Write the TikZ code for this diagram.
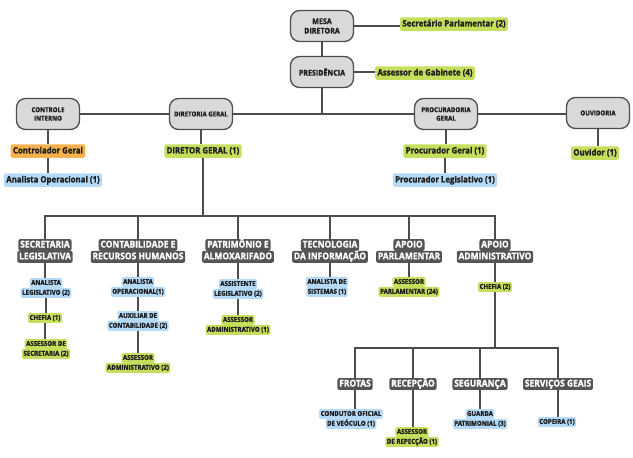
\documentclass[tikz,border=0pt]{standalone}
\usepackage{fontspec}
\setmainfont{Open Sans}[FakeStretch=0.9,BoldFeatures={FakeBold=1.2}]
\usetikzlibrary{positioning}
\definecolor{boxgray}{HTML}{D9D9D9}
\definecolor{linegray}{HTML}{4D4D4D}
\definecolor{dkgray}{HTML}{555555}
\definecolor{lgreen}{HTML}{C5DE5B}
\definecolor{lblue}{HTML}{B5DAF8}
\definecolor{lorange}{HTML}{F7B24E}
\definecolor{txt}{HTML}{1E1E1E}

\begin{document}
\begin{tikzpicture}
	[x=1pt,y=-1pt,
	lnk/.style={draw=linegray,line width=1.6pt},
	grey/.style={draw=linegray,line width=1.3pt,fill=boxgray,rounded corners=9pt,
		minimum width=63pt,minimum height=31pt,align=center,inner sep=1pt,text=txt,
		font=\bfseries\fontsize{7.9}{9.5}\selectfont},
	sgrey/.style={grey,font=\bfseries\fontsize{6.8}{8.5}\selectfont},
	tag/.style={rounded corners=2pt,inner sep=2.3pt,text=txt,text height=6.9pt,text depth=2pt,
		font=\bfseries\fontsize{8.7}{9}\selectfont},
	grn/.style={tag,fill=lgreen},
	blu/.style={tag,fill=lblue},
	orng/.style={tag,fill=lorange},
	leaf/.style={rounded corners=1.5pt,inner sep=1.5pt,text=txt,text height=5.4pt,text depth=1.5pt,
		font=\bfseries\fontsize{6.8}{7.5}\selectfont},
	lgrn/.style={leaf,fill=lgreen},
	lblu/.style={leaf,fill=lblue},
	dark/.style={fill=dkgray,text=white,rounded corners=2pt,inner sep=1.8pt,text height=6.7pt,
		text depth=1.6pt,font=\bfseries\fontsize{9.4}{10}\selectfont}]
	\useasboundingbox (0,0) rectangle (633,458);
	
	% direction
	\node[grey] (mesa) at (322,26) {MESA\\DIRETORA};
	\node[grn] (secp) at (454,24) {Secretário Parlamentar (2)};
	\node[grey] (pres) at (322,72) {PRESIDÊNCIA};
	\node[grn] (asgab) at (425,73) {Assessor de Gabinete (4)};
	\node[sgrey] (ci) at (48,114) {CONTROLE\\INTERNO};
	\node[sgrey] (dg) at (201,114) {DIRETORIA GERAL};
	\node[sgrey] (pg) at (446,114) {PROCURADORIA\\GERAL};
	\node[sgrey] (ouv) at (598,113) {OUVIDORIA};
	\coordinate (b0) at (322,113.5);
	
	\node[orng] (cg) at (48,151) {Controlador Geral};
	\node[blu] (ao) at (53,180) {Analista Operacional (1)};
	\node[grn] (dgr) at (203,151) {DIRETOR GERAL (1)};
	\node[grn] (prg) at (445,151) {Procurador Geral (1)};
	\node[blu] (prl) at (445,180) {Procurador Legislativo (1)};
	\node[grn] (ouvd) at (595,153) {Ouvidor (1)};
	
	% sectors
	\coordinate (b1) at (201,216);
	\node[dark] (sec) at (45,245) {SECRETARIA};
	\node[dark,below=-0.5pt of sec] (sec2) {LEGISLATIVA};
	\node[dark] (cont) at (138,245) {CONTABILIDADE E};
	\node[dark,below=-0.5pt of cont] (cont2) {RECURSOS HUMANOS};
	\node[dark] (pat) at (238,245) {PATRIMÔNIO E};
	\node[dark,below=-0.5pt of pat] (pat2) {ALMOXARIFADO};
	\node[dark] (tec) at (330,245) {TECNOLOGIA};
	\node[dark,below=-0.5pt of tec] (tec2) {DA INFORMAÇÃO};
	\node[dark] (apar) at (409,245) {APOIO};
	\node[dark,below=-0.5pt of apar] (apar2) {PARLAMENTAR};
	\node[dark] (aadm) at (495,245) {APOIO};
	\node[dark,below=-0.5pt of aadm] (aadm2) {ADMINISTRATIVO};
	
	% posts
	\node[lblu] (asl) at (46,283) {ANALISTA};
	\node[lblu,below=-0.5pt of asl] (asl2) {LEGISLATIVO (2)};
	\node[lgrn] (chf) at (45,318) {CHEFIA (1)};
	\node[lgrn] (ass) at (46,344) {ASSESSOR DE};
	\node[lgrn,below=-0.5pt of ass] (ass2) {SECRETARIA (2)};
	\node[lblu] (aop) at (138,282) {ANALISTA};
	\node[lblu,below=-0.5pt of aop] (aop2) {OPERACIONAL(1)};
	\node[lblu] (aux) at (138,316) {AUXILIAR DE};
	\node[lblu,below=-0.5pt of aux] (aux2) {CONTABILIDADE (2)};
	\node[lgrn] (asad) at (138,358) {ASSESSOR};
	\node[lgrn,below=-0.5pt of asad] (asad2) {ADMINISTRATIVO (2)};
	\node[lblu] (asleg) at (238,284) {ASSISTENTE};
	\node[lblu,below=-0.5pt of asleg] (asleg2) {LEGISLATIVO (2)};
	\node[lgrn] (asadm) at (238,320) {ASSESSOR};
	\node[lgrn,below=-0.5pt of asadm] (asadm2) {ADMINISTRATIVO (1)};
	\node[lblu] (asis) at (327,282) {ANALISTA DE};
	\node[lblu,below=-0.5pt of asis] (asis2) {SISTEMAS (1)};
	\node[lgrn] (aspar) at (409,282) {ASSESSOR};
	\node[lgrn,below=-0.5pt of aspar] (aspar2) {PARLAMENTAR (24)};
	\node[lgrn] (chf2) at (495,287) {CHEFIA (2)};
	
	% apoio administrativo
	\coordinate (b2) at (495,348);
	\node[dark] (frot) at (355,384) {FROTAS};
	\node[dark] (recp) at (413,384) {RECEPÇÃO};
	\node[dark] (seg) at (480,384) {SEGURANÇA};
	\node[dark] (serv) at (558,384) {SERVIÇOS GEAIS};
	\node[lblu] (cond) at (351,414) {CONDUTOR OFICIAL};
	\node[lblu,below=-0.5pt of cond] (cond2) {DE VEÓCULO (1)};
	\node[lgrn] (asrec) at (412,432) {ASSESSOR};
	\node[lgrn,below=-0.5pt of asrec] (asrec2) {DE REPECÇÃO (1)};
	\node[lblu] (guard) at (480,414) {GUARDA};
	\node[lblu,below=-0.5pt of guard] (guard2) {PATRIMONIAL (3)};
	\node[lblu] (cop) at (557,422) {COPEIRA (1)};
	
	% links
	\path
	\foreach \startNode/\endNode in {mesa/secp,pres/asgab,ci/dg,dg/pg,pg/ouv}
	{
		(\startNode.east) edge[lnk] (\startNode.east -| \endNode.west)
	};
	\path
	\foreach \startNode/\endNode in {mesa/pres,ci/cg,cg/ao,dg/dgr,pg/prg,prg/prl,ouv/ouvd,
		sec2/asl,asl2/chf,chf/ass,cont2/aop,aop2/aux,aux2/asad,pat2/asleg,asleg2/asadm,
		tec2/asis,apar2/aspar,aadm2/chf2,frot/cond,recp/asrec,seg/guard,serv/cop}
	{
		(\startNode.south) edge[lnk] (\startNode.south |- \endNode.north)
	};
	\draw[lnk] (pres.south) -- (b0);
	\draw[lnk] (dgr.south) -- (dgr.south |- b1);
	\draw[lnk] (sec.north) -- (sec.north |- b1) -- (aadm.north |- b1) -- (aadm.north);
	\draw[lnk] (chf2.south) -- (b2);
	\draw[lnk] (frot.north) -- (frot.north |- b2) -- (serv.north |- b2) -- (serv.north);
	\path
	\foreach \upNode/\boxNode in {b1/cont,b1/pat,b1/tec,b1/apar,b2/recp,b2/seg}
	{
		(\boxNode.north |- \upNode) edge[lnk] (\boxNode.north)
	};
\end{tikzpicture}
\end{document}
